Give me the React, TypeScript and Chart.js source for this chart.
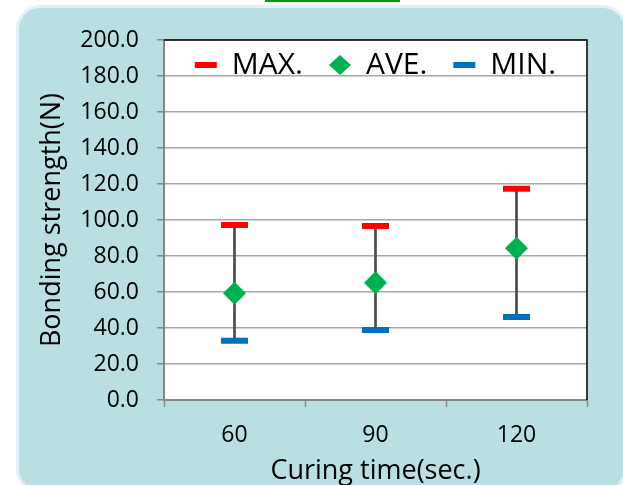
import React, { useEffect, useRef } from 'react';
import { Chart, registerables } from 'chart.js';

Chart.register(...registerables);

// ---- data ----
const categories = ['60', '90', '120'];
const seriesLabels = ['MAX.', 'AVE.', 'MIN.'];
const maxValues = [97.2, 96.7, 117.3];
const aveValues = [59.3, 65.2, 84.3];
const minValues = [32.9, 38.9, 46.1];
const yMin = 0;
const yMax = 200;
const yStep = 20;
const xTitle = 'Curing time(sec.)';
const yTitle = 'Bonding strength(N)';

const FONT = "'Open Sans', 'Noto Sans', sans-serif";

const framePlugin = {
  id: 'framePlugin',
  beforeLayout(chart: any) {
    const lg = chart.legend;
    if (lg && !lg.__patched) {
      const origFit = lg.fit.bind(lg);
      lg.fit = function () {
        origFit();
        this.__h = this.height;
        this.height = 0;
      };
      lg.__patched = true;
    }
  },
  beforeDraw(chart: any) {
    const { ctx, chartArea: a } = chart;
    ctx.save();
    ctx.fillStyle = '#ffffff';
    ctx.fillRect(a.left, a.top, a.right - a.left, a.bottom - a.top);
    ctx.restore();
    const lg = chart.legend;
    if (lg) {
      lg.left = a.left;
      lg.right = a.right;
      lg.width = a.right - a.left;
      lg.top = a.top - 16;
      lg.height = lg.__h || 60;
      lg.bottom = lg.top + lg.height;
    }
  },
  beforeDatasetsDraw(chart: any) {
    const { ctx, chartArea: a } = chart;
    ctx.save();
    ctx.strokeStyle = '#000000';
    ctx.lineWidth = 1.5;
    ctx.beginPath();
    ctx.moveTo(a.left, a.top);
    ctx.lineTo(a.right, a.top);
    ctx.lineTo(a.right, a.bottom);
    ctx.stroke();
    ctx.restore();
  },
};

export default function App() {
  const ref = useRef<HTMLCanvasElement>(null);

  useEffect(() => {
    const canvas = ref.current!;
    const chart = new Chart(canvas, {
      type: 'line',
      data: {
        labels: categories,
        datasets: [
          {
            type: 'line',
            label: seriesLabels[0],
            data: maxValues,
            showLine: false,
            pointStyle: 'line',
            pointRadius: 13.5,
            pointHoverRadius: 13.5,
            pointBorderWidth: 6,
            pointBorderColor: '#ff0000',
            pointBackgroundColor: '#ff0000',
            borderColor: '#ff0000',
            backgroundColor: '#ff0000',
            order: 1,
          },
          {
            type: 'line',
            label: seriesLabels[1],
            data: aveValues,
            showLine: false,
            pointStyle: 'rectRot',
            pointRadius: 11.5,
            pointHoverRadius: 11.5,
            pointBorderWidth: 0,
            pointBorderColor: '#00b050',
            pointBackgroundColor: '#00b050',
            borderColor: '#00b050',
            backgroundColor: '#00b050',
            order: 0,
          },
          {
            type: 'line',
            label: seriesLabels[2],
            data: minValues,
            showLine: false,
            pointStyle: 'line',
            pointRadius: 13.5,
            pointHoverRadius: 13.5,
            pointBorderWidth: 6,
            pointBorderColor: '#0070c0',
            pointBackgroundColor: '#0070c0',
            borderColor: '#0070c0',
            backgroundColor: '#0070c0',
            order: 1,
          },
          {
            type: 'bar',
            label: 'range',
            data: categories.map((_, i) => [minValues[i], maxValues[i]]) as any,
            backgroundColor: '#4a4a4a',
            borderWidth: 0,
            barThickness: 2,
            order: 3,
          },
        ],
      },
      options: {
        responsive: false,
        animation: false,
        devicePixelRatio: 1,
        events: [],
        layout: { padding: { top: 40, left: 0, right: 36, bottom: 0 } },
        plugins: {
          tooltip: { enabled: false },
          legend: {
            display: true,
            position: 'top',
            align: 'center',
            labels: {
              filter: (item: any) => item.datasetIndex < 3,
              sort: (a: any, b: any) => a.datasetIndex - b.datasetIndex,
              usePointStyle: true,
              pointStyleWidth: 22,
              boxHeight: 14,
              padding: 26,
              color: '#000000',
              font: { family: FONT, size: 30 },
            },
          },
        },
        scales: {
          x: {
            type: 'category',
            offset: true,
            grid: {
              offset: true,
              drawOnChartArea: false,
              drawTicks: true,
              tickLength: 7,
              tickColor: '#8a8a8a',
              tickWidth: 1.5,
            },
            border: { display: true, color: '#868686', width: 2 },
            ticks: {
              color: '#000000',
              font: { family: FONT, size: 23 },
              padding: 15,
              maxRotation: 0,
            },
            title: {
              display: true,
              text: xTitle,
              color: '#000000',
              font: { family: FONT, size: 27, lineHeight: 1 },
              padding: { top: 0, bottom: 0 },
            },
            afterFit: (scale: any) => {
              scale.height = 85;
            },
          },
          y: {
            type: 'linear',
            min: yMin,
            max: yMax,
            grid: {
              color: '#a6a6a6',
              lineWidth: 1.5,
              drawTicks: true,
              tickLength: 7,
              tickColor: '#8a8a8a',
              tickWidth: 1.5,
            },
            border: { display: true, color: '#868686', width: 2 },
            ticks: {
              stepSize: yStep,
              autoSkip: false,
              color: '#000000',
              font: { family: FONT, size: 23 },
              padding: 18,
              callback: (v: any) => Number(v).toFixed(1),
            },
            title: {
              display: true,
              text: yTitle,
              color: '#000000',
              font: { family: FONT, size: 27, lineHeight: 1 },
              padding: { top: 39, bottom: 0 },
            },
            afterFit: (scale: any) => {
              scale.width = 164;
            },
          },
        },
      },
      plugins: [framePlugin],
    } as any);
    return () => chart.destroy();
  }, []);

  return (
    <div
      style={{
        position: 'absolute',
        left: 0,
        top: 0,
        width: 623,
        height: 485,
        overflow: 'hidden',
        background: '#ffffff',
      }}
    >
      <div
        style={{
          position: 'absolute',
          left: 16,
          top: 5,
          width: 605,
          height: 482,
          border: '3px solid #e4f1f8',
          borderRadius: 24,
          background: '#badfe2',
        }}
      />
      <div
        style={{
          position: 'absolute',
          left: 265,
          top: 0,
          width: 135,
          height: 2,
          background: '#00a000',
        }}
      />
      <canvas
        ref={ref}
        width={623}
        height={485}
        style={{ position: 'absolute', left: 0, top: 0, width: 623, height: 485 }}
      />
    </div>
  );
}
